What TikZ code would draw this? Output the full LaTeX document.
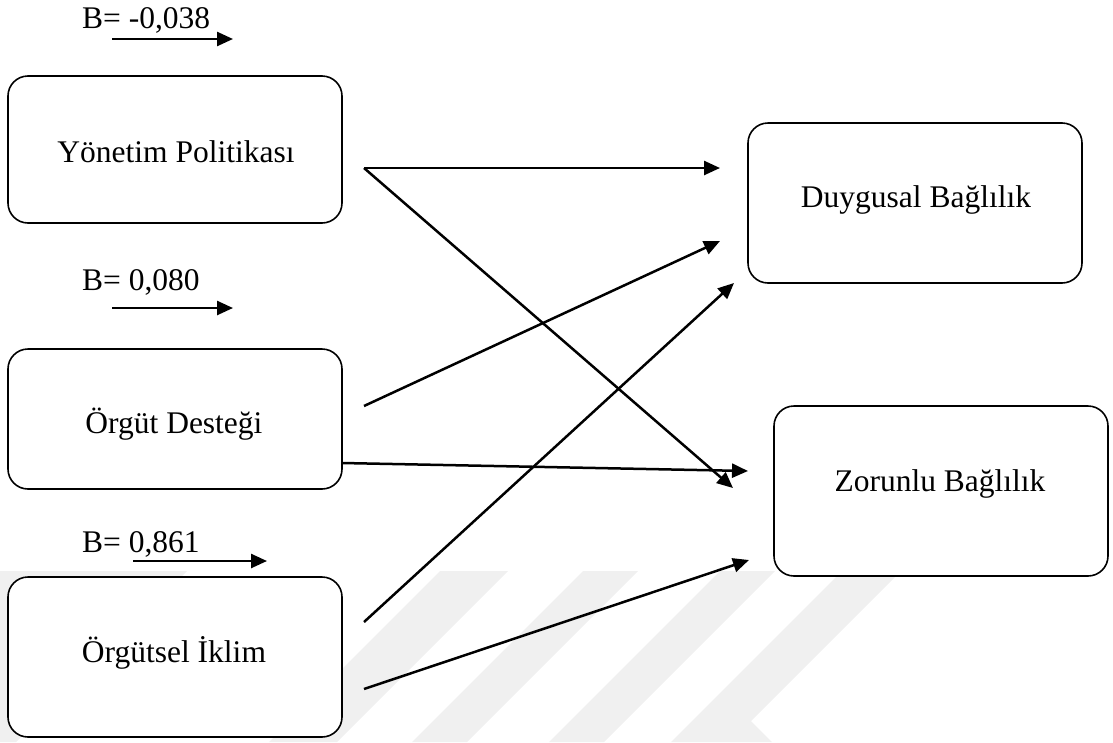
\documentclass[tikz,border=0pt]{standalone}
\usepackage{fontspec}
\setmainfont{Liberation Serif}
\usetikzlibrary{arrows.meta}
\definecolor{wmgray}{RGB}{240,240,240}
\begin{document}
\begin{tikzpicture}[x=1pt,y=-1pt,
  box/.style={draw=black, line width=1.6pt, rounded corners=20pt, fill=white,
              minimum width=334pt, inner sep=0pt},
  lbl/.style={font=\fontsize{31.5}{36}\selectfont, inner sep=0pt, anchor=base},
  coef/.style={font=\fontsize{31.5}{36}\selectfont, inner sep=0pt, anchor=base west},
  link/.style={line width=2.5pt, -{Triangle[length=16pt,width=14pt]}},
  wm/.style={fill=wmgray, draw=none}]
\useasboundingbox (0,0) rectangle (1113,742);

% faint background stripes
\begin{scope}
  \clip (0,0) rectangle (1113,742);
  \fill[wm] (0,571) -- (187,571) -- (16,742) -- (0,742) -- cycle;
  \fill[wm] (440,571) -- (508,571) -- (337,742) -- (269,742) -- cycle;
  \fill[wm] (583,571) -- (638,571) -- (467,742) -- (412,742) -- cycle;
  \fill[wm] (720,571) -- (775,571) -- (604,742) -- (549,742) -- cycle;
  \fill[wm] (842,571) -- (901,571) -- (751,721) -- (772,742) -- (671,742) -- cycle;
\end{scope}

% predictor boxes
\node[box, minimum height=147pt] (yp) at (175,149.5) {};
\node[box, minimum height=140pt] (od) at (175,419) {};
\node[box, minimum height=160pt] (oi) at (175,657) {};
% outcome boxes
\node[box, minimum height=160pt] (db) at (915,203) {};
\node[box, minimum height=170pt] (zb) at (941,491) {};

\node[lbl] (ypt) at (176,162) {Yönetim Politikası};
\node[lbl] (odt) at (174,433) {Örgüt Desteği};
\node[lbl] (oit) at (174,662) {Örgütsel İklim};
\node[lbl] (dbt) at (916,207) {Duygusal Bağlılık};
\node[lbl] (zbt) at (940,491) {Zorunlu Bağlılık};

% coefficients
\node[coef] (b1) at (82,28) {B= -0,038};
\node[coef] (b2) at (82,290) {B= 0,080};
\node[coef] (b3) at (82,552) {B= 0,861};
\coordinate (b1s) at (112,39);  \coordinate (b1e) at (233,39);
\coordinate (b2s) at (112,308); \coordinate (b2e) at (233,308);
\coordinate (b3s) at (133,561); \coordinate (b3e) at (267,561);
\draw[link] (b1s) -- (b1e);
\draw[link] (b2s) -- (b2e);
\draw[link] (b3s) -- (b3e);

% connector ends
\coordinate (yp-o)  at (364,168);
\coordinate (od-o1) at (364,406);
\coordinate (od-o2) at (342,463);
\coordinate (oi-o1) at (364,622);
\coordinate (oi-o2) at (364,689);
\coordinate (db-i1) at (720,168);
\coordinate (db-i2) at (720,241);
\coordinate (db-i3) at (734,283);
\coordinate (zb-i1) at (733,488);
\coordinate (zb-i2) at (748,471);
\coordinate (zb-i3) at (749,560);

\draw[link] (yp-o) -- (db-i1);
\draw[link] (yp-o) -- (zb-i1);
\draw[link] (od-o1) -- (db-i2);
\draw[link] (od-o2) -- (zb-i2);
\draw[link] (oi-o1) -- (db-i3);
\draw[link] (oi-o2) -- (zb-i3);
\end{tikzpicture}
\end{document}
